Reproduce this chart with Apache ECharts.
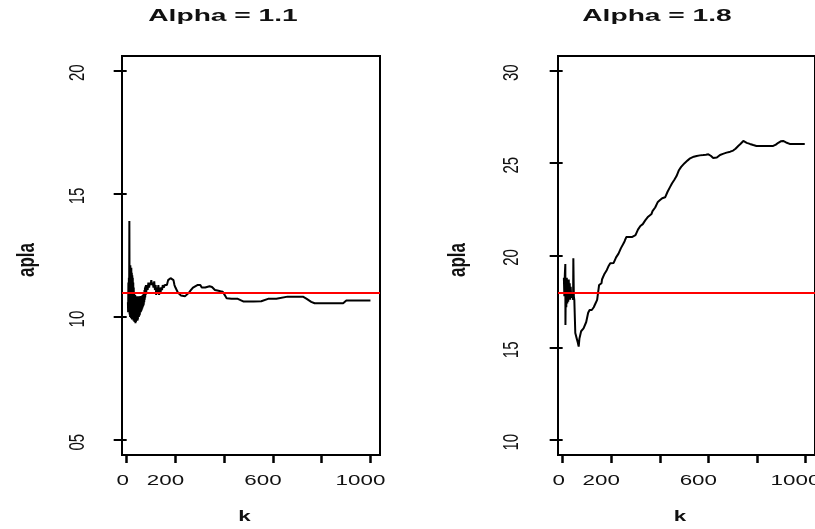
<!DOCTYPE html>
<html>
<head>
<meta charset="utf-8">
<script src="https://cdn.jsdelivr.net/npm/echarts@6/dist/echarts.min.js"></script>
<style>
  html, body { margin: 0; padding: 0; background: #fff; }
  #chart { width: 815px; height: 529px; }
</style>
</head>
<body>
<div id="chart"></div>
<script>
// Running estimate of alpha against k, two panels (true alpha 1.1 and 1.8)
const panelTitles = ['Alpha = 1.1', 'Alpha = 1.8'];
const trueAlpha = [1.1, 1.8];

const kLeft = [5,6,7,8,9,10,11,12,13,14,15,16,17,18,19,20,21,22,23,24,25,26,27,28,29,30,31,32,33,34,35,36,37,38,39,40,41,42,43,44,45,46,47,48,49,50,51,52,53,54,55,56,57,58,59,60,61,62,63,64,65,66,67,68,69,70,71,72,73,74,75,76,77,78,79,80,83,86,89,92,95,98,101,104,107,110,113,116,119,121,124,127,130,133,136,139,142,145,148,152,156,160,165,170,175,180,188,192,196,200,205,210,216,222,230,240,248,256,264,272,280,290,296,302,308,314,322,330,340,350,356,362,372,385,394,400,405,410,430,456,462,480,520,552,558,580,614,622,660,723,737,757,771,820,888,895,901,950,1000];
const alphaLeft = [1.06,1.02,1.14,1.03,1.16,1.02,1.39,1.01,1.19,1.00,1.21,1.01,1.19,0.995,1.20,1.00,1.18,0.99,1.17,0.995,1.16,0.99,1.14,0.985,1.12,0.985,1.10,0.98,1.09,0.985,1.09,0.975,1.08,0.98,1.085,0.985,1.08,0.99,1.085,0.985,1.08,0.99,1.08,1.00,1.085,1.00,1.08,1.005,1.085,1.01,1.08,1.02,1.085,1.02,1.08,1.025,1.085,1.03,1.085,1.035,1.09,1.04,1.09,1.045,1.095,1.05,1.10,1.06,1.11,1.07,1.12,1.08,1.125,1.09,1.13,1.10,1.13,1.11,1.14,1.12,1.14,1.13,1.15,1.13,1.14,1.12,1.145,1.11,1.13,1.09,1.12,1.10,1.13,1.09,1.12,1.10,1.12,1.11,1.13,1.12,1.13,1.125,1.13,1.15,1.155,1.158,1.155,1.15,1.13,1.12,1.11,1.10,1.095,1.088,1.085,1.085,1.09,1.10,1.11,1.12,1.125,1.13,1.138,1.13,1.12,1.115,1.12,1.125,1.125,1.122,1.115,1.11,1.108,1.105,1.103,1.095,1.085,1.076,1.074,1.074,1.066,1.063,1.063,1.064,1.072,1.074,1.074,1.08,1.083,1.083,1.075,1.062,1.056,1.056,1.056,1.062,1.067,1.067,1.067];

const kRight = [5,7,9,11,11.5,13,15,17,19,21,23,25,27,29,31,33,35,37,39,41,43,44,46,48,50,52,55,58,62,66,69,73,76,80,86,93,97,100,105,111,120,128,135,142,146,150,155,160,162,169,172,178,182,188,196,210,217,220,226,230,235,240,247,251,256,262,285,290,300,306,310,316,320,330,336,340,348,352,360,366,370,378,381,388,392,401,410,422,428,432,438,442,447,450,456,460,466,469,474,478,484,488,495,502,515,525,540,552,565,579,590,600,610,620,627,635,648,660,675,690,702,712,723,733,744,758,771,785,798,830,867,878,888,898,908,920,935,960,997];
const alphaRight = [1.88,1.78,1.90,1.954,1.624,1.85,1.72,1.88,1.74,1.86,1.75,1.87,1.78,1.85,1.76,1.83,1.78,1.80,1.77,1.80,1.76,1.985,1.78,1.76,1.76,1.58,1.57,1.55,1.53,1.507,1.55,1.56,1.59,1.60,1.605,1.61,1.64,1.65,1.69,1.705,1.705,1.72,1.74,1.76,1.80,1.84,1.85,1.85,1.87,1.876,1.90,1.90,1.922,1.94,1.958,1.96,1.965,1.99,2.00,2.01,2.02,2.04,2.045,2.066,2.08,2.10,2.10,2.105,2.11,2.12,2.14,2.145,2.16,2.17,2.172,2.19,2.195,2.21,2.22,2.225,2.24,2.245,2.26,2.27,2.29,2.30,2.31,2.315,2.325,2.345,2.35,2.37,2.375,2.39,2.395,2.41,2.415,2.43,2.44,2.46,2.465,2.48,2.49,2.50,2.515,2.526,2.535,2.539,2.542,2.544,2.546,2.548,2.54,2.528,2.522,2.53,2.544,2.55,2.557,2.562,2.568,2.578,2.593,2.605,2.62,2.61,2.604,2.598,2.593,2.593,2.593,2.60,2.61,2.618,2.62,2.612,2.604,2.604,2.604];

const xTicks = [0, 200, 400, 600, 800, 1000];
const xTickLabels = [0, 200, 600, 1000];
const yTicksLeft = [0.5, 1.0, 1.5, 2.0];
const yTicksRight = [1.0, 1.5, 2.0, 2.5, 3.0];
const yTitle = 'apla';
const xTitle = 'k';

const pairs = (xs, ys) => xs.map((x, i) => [x, ys[i]]);
const yText = v => v.toFixed(1).replace('.', '');

const chart = echarts.init(document.getElementById('chart'), null, { renderer: 'canvas' });

const grids = [
  { left: 122, top: 56, width: 258, height: 399 },
  { left: 558, top: 56, width: 258, height: 399 }
];

function xAxisDef(gi) {
  return {
    gridIndex: gi, type: 'value', min: -19.2, max: 1039.2,
    axisLine: { show: false },
    splitLine: { show: false },
    axisTick: { show: true, inside: false, length: 8, customValues: xTicks,
                lineStyle: { color: '#000', width: 2.5 } },
    axisLabel: { show: false }
  };
}
function yAxisDef(gi, min, max, ticks) {
  return {
    gridIndex: gi, type: 'value', min: min, max: max,
    axisLine: { show: false },
    splitLine: { show: false },
    axisTick: { show: true, inside: false, length: 13, customValues: ticks,
                lineStyle: { color: '#000', width: 2 } },
    axisLabel: { show: false }
  };
}
function lineSeries(gi, data, ref) {
  return {
    type: 'line', xAxisIndex: gi, yAxisIndex: gi,
    data: data, showSymbol: false, symbol: 'none',
    lineStyle: { color: '#000', width: 2 },
    animation: false, silent: true,
    markLine: {
      silent: true, symbol: ['none', 'none'], animation: false,
      label: { show: false },
      lineStyle: { color: '#ff0000', width: 2, type: 'solid' },
      data: [{ yAxis: ref }]
    }
  };
}

chart.setOption({
  animation: false,
  grid: grids.map(g => Object.assign({ show: true, borderColor: '#000', borderWidth: 2,
                                        backgroundColor: 'transparent' }, g)),
  xAxis: [xAxisDef(0), xAxisDef(1)],
  yAxis: [yAxisDef(0, 0.44, 2.06, yTicksLeft), yAxisDef(1, 0.92, 3.08, yTicksRight)],
  series: [
    lineSeries(0, pairs(kLeft, alphaLeft), trueAlpha[0]),
    lineSeries(1, pairs(kRight, alphaRight), trueAlpha[1])
  ]
});

// Text is laid out from the axis scales, widened horizontally
const FONT = '"Liberation Sans", Arial, sans-serif';
const WIDE = 1.6;
const texts = [];
function addText(text, x, y, size, weight, rotated, wide) {
  texts.push({
    type: 'text', x: x, y: y, silent: true,
    rotation: rotated ? Math.PI / 2 : 0,
    scaleX: rotated ? 1 : wide, scaleY: rotated ? wide : 1,
    style: { text: text, fill: '#111', font: weight + ' ' + size + 'px ' + FONT,
             align: 'center', verticalAlign: 'middle' }
  });
}

const titleX = [223, 657];
const yLabelX = [78, 512];
const yTitleX = [27, 458];
const yTickSets = [yTicksLeft, yTicksRight];
for (let gi = 0; gi < 2; gi++) {
  addText(panelTitles[gi], titleX[gi], 17, 16, 'bold', false, 1.76);
  xTickLabels.forEach(v => {
    const px = chart.convertToPixel({ xAxisIndex: gi }, v);
    addText(String(v), px - (v === 0 ? 4 : 10), 481, 14, 'normal', false, WIDE);
  });
  yTickSets[gi].forEach(v => {
    const py = chart.convertToPixel({ yAxisIndex: gi }, v);
    addText(yText(v), yLabelX[gi], py + 2, 15, 'normal', true, 1.5);
  });
  const midX = chart.convertToPixel({ xAxisIndex: gi }, 500);
  addText(xTitle, midX - 4, 517, 14, 'bold', false, WIDE);
  addText(yTitle, yTitleX[gi], 260, 17, 'bold', true, 1.4);
}
chart.setOption({ graphic: { elements: texts } });
</script>
</body>
</html>
